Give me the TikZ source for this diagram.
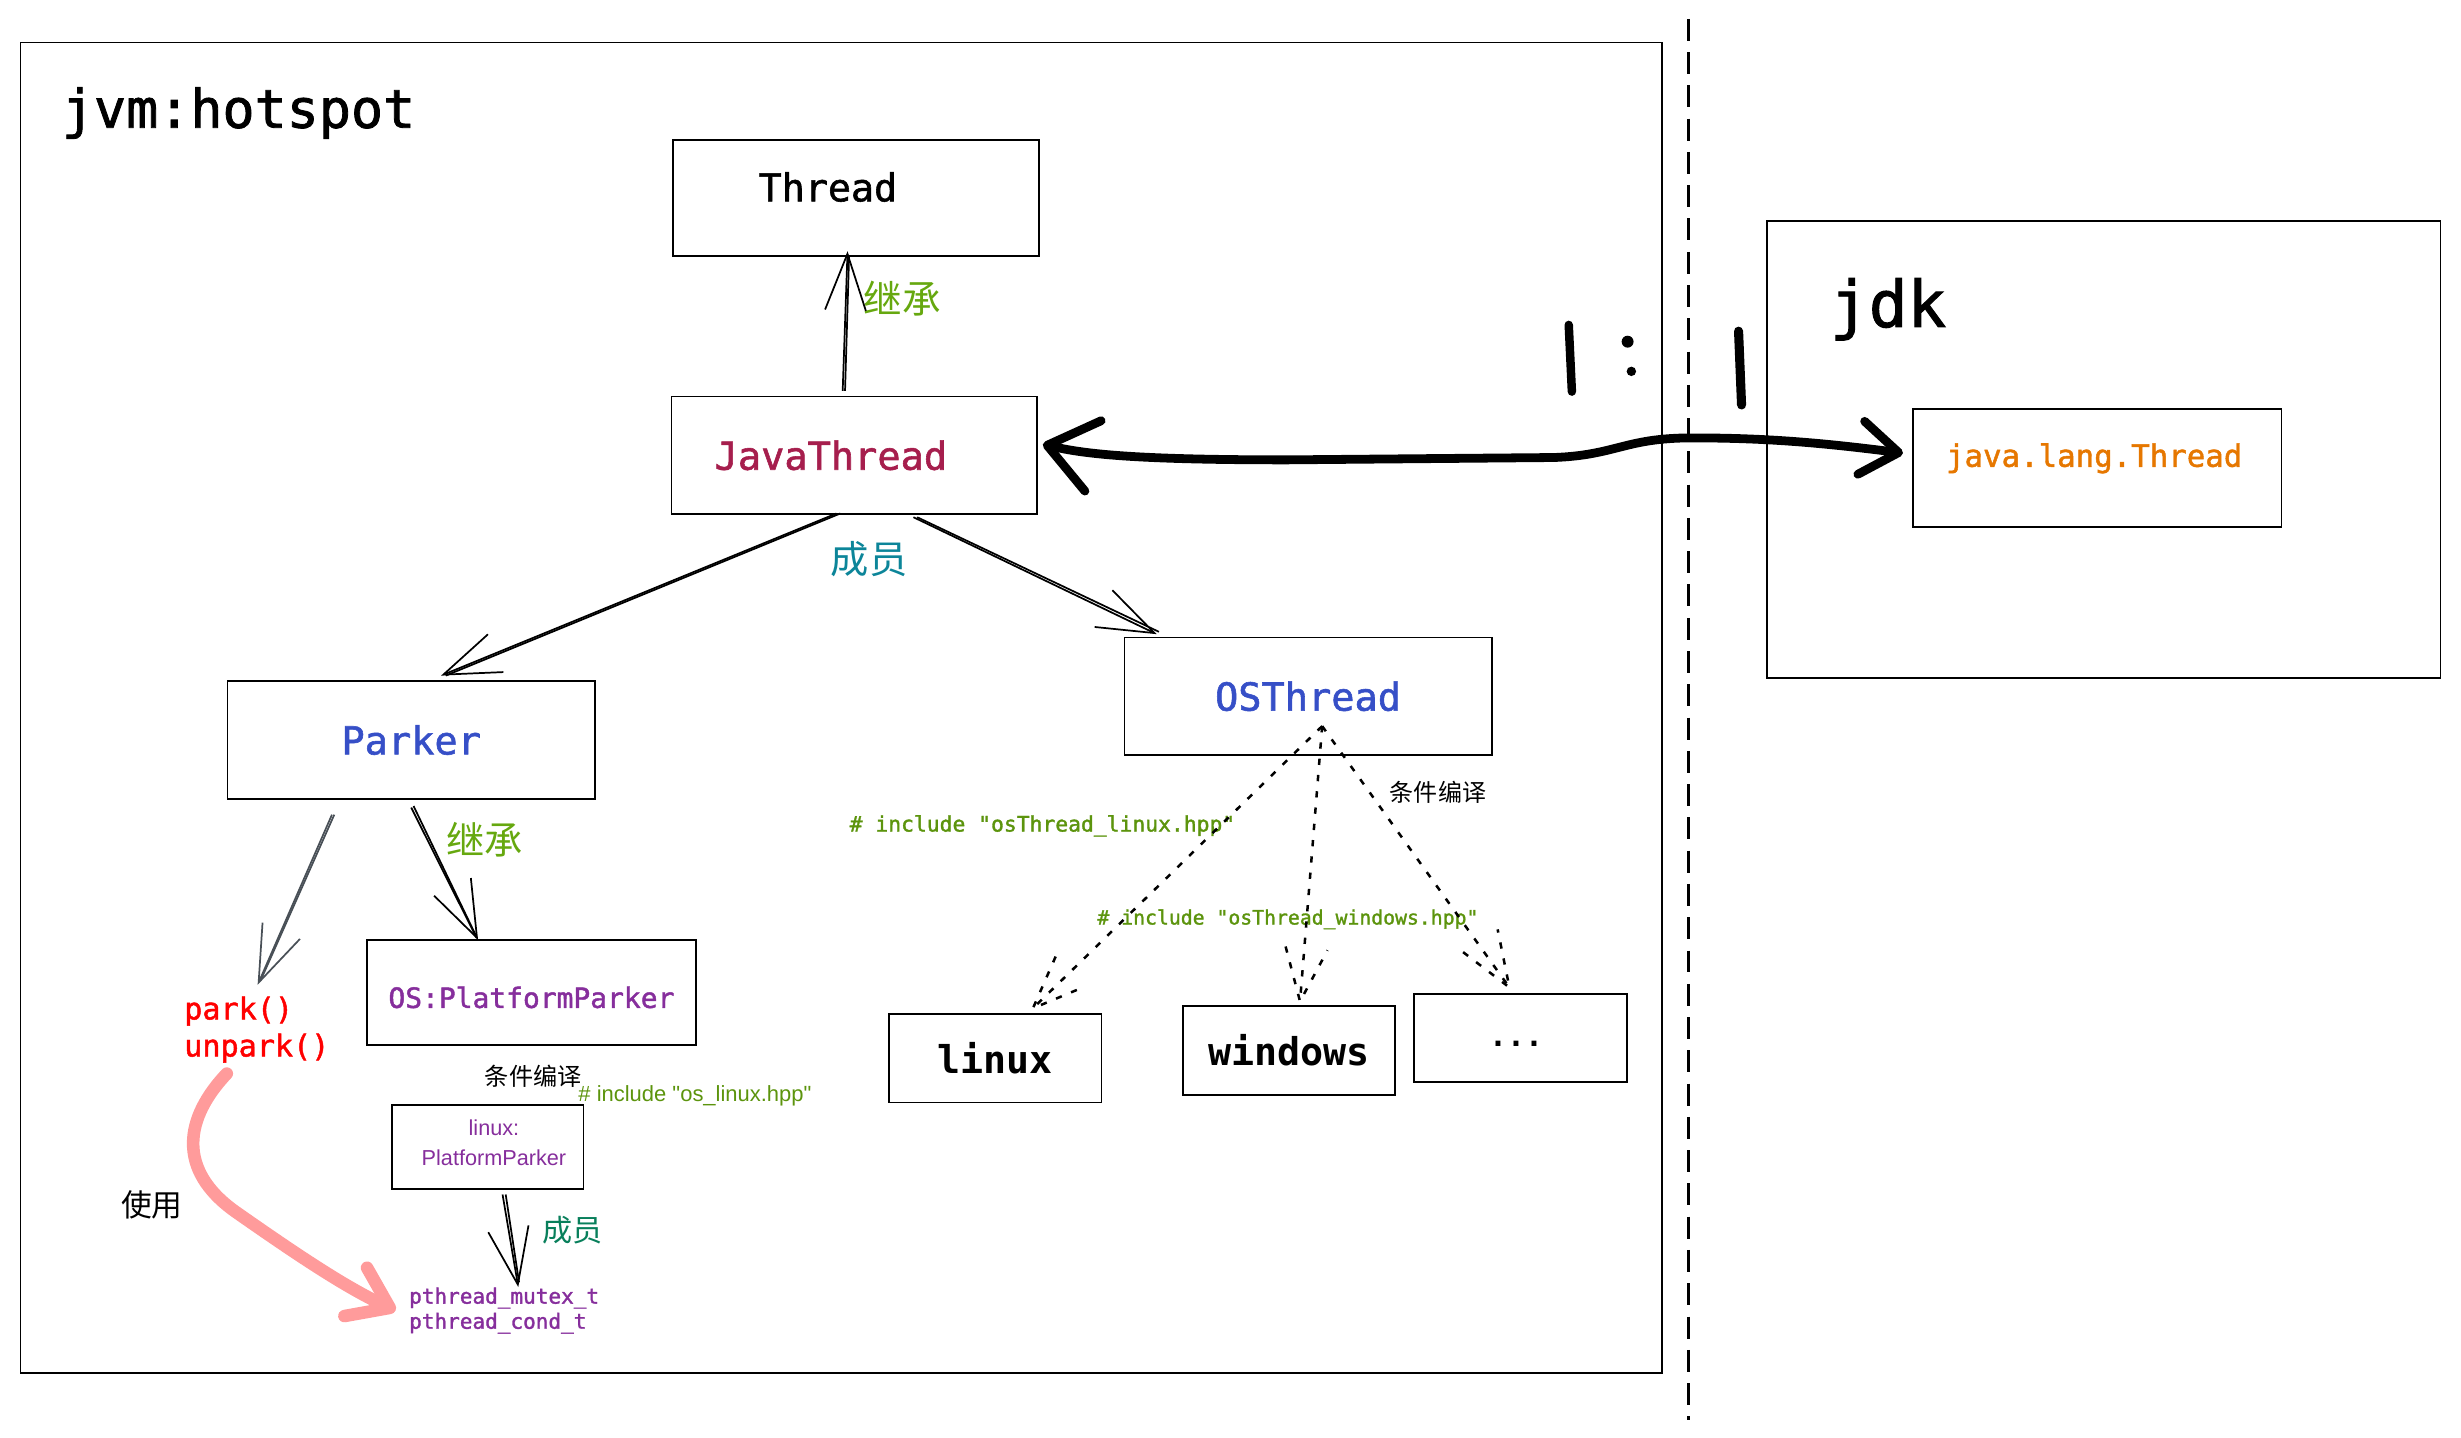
\documentclass[tikz,border=0pt]{standalone}
\usepackage{fontspec}
\setmainfont{Liberation Sans}
\setmonofont{DejaVu Sans Mono}
\newfontfamily\monom[FakeBold=1.5]{DejaVu Sans Mono}
\newfontfamily\osans[Ligatures=TeXOff]{Liberation Sans}
\newfontfamily\cjk{Noto Sans CJK SC}
\usetikzlibrary{arrows.meta,calc}
\definecolor{jtred}{HTML}{A61E4D}
\definecolor{cblue}{HTML}{364FC7}
\definecolor{cpurple}{HTML}{862E9C}
\definecolor{corange}{HTML}{E67700}
\definecolor{cgreen}{HTML}{66A80F}
\definecolor{cgreen2}{HTML}{5C940D}
\definecolor{cteal}{HTML}{0C8599}
\definecolor{cteal2}{HTML}{087F5B}
\definecolor{cpink}{HTML}{FF9B9B}
\definecolor{cgray}{HTML}{495057}
\newcommand\fsz[2]{\fontsize{#1}{#2}\selectfont}
\begin{document}
\begin{tikzpicture}[x=0.5pt,y=-0.5pt,
  box/.style={draw,line width=0.55pt,inner sep=0pt},
  txt/.style={inner sep=0pt},
  sk/.style={line width=0.55pt},
  skar/.style={sk,-{Straight Barb[length=18pt,width=13pt]}},
  dotl/.style={line width=0.8pt,dash pattern=on 2pt off 3.2pt},
  ]
\useasboundingbox (0,0) rectangle (1568,915.6);

% containers
\node[box,minimum width=523pt,minimum height=424pt] (jvm) at (536,451) {};
\node[box,minimum width=214.5pt,minimum height=145.5pt] (jdk) at (1340.5,286.5) {};
\draw[line width=0.85pt,dash pattern=on 7pt off 3.6pt] (1076,12) -- (1076,905);
\node[txt,font=\monom\fsz{17pt}{20pt}] (jvmlbl) at (152,72) {jvm:hotspot};
\node[txt,font=\monom\fsz{20.5pt}{24pt}] (jdklbl) at (1203,197) {jdk};

% boxes
\node[box,minimum width=116.5pt,minimum height=37pt,font=\monom\fsz{12.2pt}{14pt}] (thread) at (545.5,126) {Thread\hspace*{18pt}\rule[-7pt]{0pt}{7pt}};
\node[box,minimum width=116.5pt,minimum height=37.5pt,font=\monom\fsz{12.3pt}{14pt},text=jtred] (javathread) at (544.4,290.1) {JavaThread\hspace*{15pt}};
\node[box,minimum width=117pt,minimum height=37.5pt,font=\monom\fsz{12.3pt}{14pt},text=cblue] (parker) at (262,471.5) {Parker};
\node[box,minimum width=117pt,minimum height=37.5pt,font=\monom\fsz{12.3pt}{14pt},text=cblue] (osthread) at (833.4,443.6) {OSThread};
\node[box,minimum width=105pt,minimum height=33.5pt,font=\monom\fsz{8.9pt}{11pt},text=cpurple] (ospp) at (338.6,632.5) {\rule{0pt}{9.8pt}OS:PlatformParker};
\node[box,minimum width=61pt,minimum height=26.7pt,font=\osans\fsz{6.9pt}{9.75pt},text=cpurple,align=center] (linuxpp) at (310.7,730.8) {\hspace*{4pt}linux:\\\hspace*{4pt}PlatformParker\rule[-2.8pt]{0pt}{2.8pt}};
\node[box,minimum width=67.7pt,minimum height=28.2pt,font=\ttfamily\bfseries\fsz{12.2pt}{14pt}] (linux) at (634.1,674.2) {linux};
\node[box,minimum width=67.7pt,minimum height=28.2pt,font=\ttfamily\bfseries\fsz{12.2pt}{14pt}] (windows) at (821.3,669.3) {windows};
\node[box,minimum width=67.7pt,minimum height=28.2pt,font=\ttfamily\bfseries\fsz{9.5pt}{12pt}] (etc) at (968.7,661.4) {\rule{0pt}{5.5pt}...\hspace*{2.7pt}};
\node[box,minimum width=117.3pt,minimum height=37.4pt,font=\monom\fsz{9.8pt}{12pt},text=corange] (jlt) at (1336.3,298.2) {java.lang.Thread\hspace*{2pt}\rule[-8.3pt]{0pt}{8.3pt}};

% labels
\node[txt,font=\cjk\fsz{12.3pt}{14pt},text=cgreen] (inh1) at (575,190.5) {继承};
\node[txt,font=\cjk\fsz{12.2pt}{14pt},text=cteal] (mem1) at (553.8,356.5) {成员};
\node[txt,font=\cjk\fsz{12.2pt}{14pt},text=cgreen] (inh2) at (309,534.8) {继承};
\node[txt,font=\cjk\fsz{7.65pt}{9pt}] (cond1) at (916.2,504.5) {条件编译};
\node[txt,font=\monom\fsz{6.8pt}{8pt},text=cgreen2] (inc1) at (664.2,526.2) {\# include "osThread\_linux.hpp"};
\node[txt,font=\monom\fsz{6.3pt}{8pt},text=cgreen2] (inc2) at (820.6,585.7) {\# include "osThread\_windows.hpp"};
\node[txt,font=\cjk\fsz{7.7pt}{9pt}] (cond2) at (339.7,686) {条件编译};
\node[txt,font=\osans\fsz{7pt}{9pt},text=cgreen2] (inc3) at (442.8,698) {\# include "os\_linux.hpp"};
\node[txt,font=\cjk\fsz{9.8pt}{12pt}] (use) at (96.8,767.4) {使用};
\node[txt,font=\cjk\fsz{9.6pt}{12pt},text=cteal2] (mem2) at (364.8,784) {成员};
\node[txt,font=\monom\fsz{9.6pt}{11.8pt},text=red,align=left,anchor=north west] (park) at (117,634.5) {park()\\unpark()};
\node[txt,font=\monom\fsz{6.7pt}{8pt},text=cpurple,align=left,anchor=north west] (pth) at (260.3,820) {pthread\_mutex\_t\\pthread\_cond\_t};

% solid sketchy connectors
\draw[skar] ($(javathread.north)+(-7.5,-3)$) -- ($(thread.south)+(-5.5,-3.5)$);
\draw[sk] ($(javathread.north)+(-6,-3)$) -- ($(thread.south)+(-4.5,-1)$);
\draw[skar] ($(javathread.south)+(-11.5,-1)$) -- ($(parker.north)+(19,-3)$);
\draw[sk] ($(javathread.south)+(-9,-1)$) -- ($(parker.north)+(22,-3)$);
\draw[skar] ($(javathread.south)+(37.6,1.4)$) -- ($(osthread.north)+(-96.4,-1.5)$);
\draw[sk] ($(javathread.south)+(40,1.4)$) -- ($(osthread.north)+(-95,-3)$);
\draw[skar,draw=cgray] ($(parker.south)+(-50.5,9.5)$) -- ($(park.north)+(0.5,-7)$);
\draw[sk,draw=cgray] ($(parker.south)+(-49,9.5)$) -- ($(park.north)+(2.5,-10)$);
\draw[skar] ($(parker.south)+(1.5,4)$) -- ($(ospp.north)+(-34,0.5)$);
\draw[sk] ($(parker.south)+(0,5)$) -- ($(ospp.north)+(-35,-1)$);
\draw[skar] ($(linuxpp.south)+(9.5,3)$) -- ($(pth.north)+(9,0)$);
\draw[sk] ($(linuxpp.south)+(11.5,3)$) -- ($(pth.north)+(9.5,-3)$);

% dotted conditional-compilation connectors
\coordinate (dsrc) at ($(osthread.south)+(9,-19)$);
\coordinate (tl) at ($(linux.north)+(24,-3)$);
\coordinate (tw) at ($(windows.north)+(7,-2.5)$);
\coordinate (te) at ($(etc.north)+(-7,-3.5)$);
\draw[dotl] (dsrc) -- (tl);
\draw[dotl] ($(tl)+(14.5,-33)$) -- (tl) -- ($(tl)+(32.7,-13.7)$);
\draw[dotl] (dsrc) -- (tw);
\draw[dotl] ($(tw)+(-9.2,-35)$) -- (tw) -- ($(tw)+(17.5,-32.6)$);
\draw[dotl] (dsrc) -- (te);
\draw[dotl] ($(te)+(-29.5,-22.5)$) -- (te) -- ($(te)+(-7.5,-37)$);

% pink "use" arrow
\coordinate (pk1) at (144.5,684);
\coordinate (pk2) at (252,835);
\draw[line width=4pt,draw=cpink,line cap=round,-{Straight Barb[round,length=12pt,width=17pt]}] (pk1) .. controls (118,712) and (112,745) .. (150,772) .. controls (190,800) and (220,820) .. (pk2);

% big 1:1 double arrow
\coordinate (ba1) at ($(javathread.east)+(3,-7)$);
\coordinate (ba2) at ($(jlt.west)+(-6,-9.5)$);
\draw[line width=2.8pt,line cap=round,{Straight Barb[round,length=15pt,width=23pt]}-{Straight Barb[round,length=12pt,width=17pt]}] (ba1) .. controls (690,289) and (720,293) .. (820,293) -- (990,291.5) .. controls (1030,290) and (1035,279) .. (1078,279) .. controls (1125,279) and (1160,282) .. (ba2);

% hand drawn "1 : 1"
\draw[line width=2.7pt,line cap=round] (999.5,207) -- (1001.5,249.5);
\fill (1037,217.7) circle (1.9pt);
\fill (1039.4,236.6) circle (1.5pt);
\draw[line width=2.9pt,line cap=round] (1107.7,211) -- (1109.6,258);
\end{tikzpicture}
\end{document}
